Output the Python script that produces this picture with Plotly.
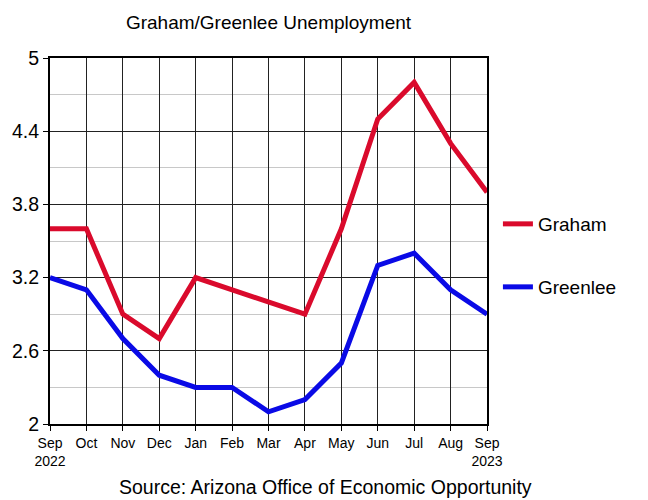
import plotly.graph_objects as go

months = ["Sep<br>2022", "Oct", "Nov", "Dec", "Jan", "Feb", "Mar", "Apr", "May", "Jun", "Jul", "Aug", "Sep<br>2023"]
graham = [3.6, 3.6, 2.9, 2.7, 3.2, 3.1, 3.0, 2.9, 3.6, 4.5, 4.8, 4.3, 3.9]
greenlee = [3.2, 3.1, 2.7, 2.4, 2.3, 2.3, 2.1, 2.2, 2.5, 3.3, 3.4, 3.1, 2.9]
x = list(range(len(months)))

FONT = "Liberation Sans, Arial, sans-serif"

fig = go.Figure()
fig.add_trace(go.Scatter(x=x, y=graham, mode="lines", name="Graham",
                         line=dict(color="#DA0A2C", width=5), legend="legend", showlegend=True))
fig.add_trace(go.Scatter(x=x, y=greenlee, mode="lines", name="Greenlee",
                         line=dict(color="#0A0AE6", width=5), legend="legend2", showlegend=True))

fig.update_layout(
    width=648, height=500,
    showlegend=True,
    margin=dict(l=50, r=161, t=58, b=76),
    paper_bgcolor="white", plot_bgcolor="white",
    font=dict(family=FONT, color="black"),
    title=dict(text="Graham/Greenlee Unemployment", x=0.5, xref="paper", xanchor="center",
               y=1 - 22 / 500, yanchor="middle", font=dict(size=19, family=FONT, color="black")),
    legend=dict(x=1.025, y=(424 - 224) / 366, xanchor="left", yanchor="middle",
                font=dict(size=19, family=FONT), bgcolor="rgba(0,0,0,0)", itemwidth=30),
    legend2=dict(x=1.025, y=(424 - 287) / 366, xanchor="left", yanchor="middle",
                 font=dict(size=19, family=FONT), bgcolor="rgba(0,0,0,0)", itemwidth=30),
    xaxis=dict(range=[0, 12], tickvals=x, ticktext=months, showgrid=True, gridcolor="#222",
               gridwidth=1, ticks="outside", ticklen=5, tickcolor="black",
               showline=True, linecolor="black", linewidth=2, mirror=True,
               tickfont=dict(size=14, family=FONT), zeroline=False, fixedrange=True),
    yaxis=dict(range=[2, 5], tickvals=[2, 2.6, 3.2, 3.8, 4.4, 5],
               ticktext=["2", "2.6", "3.2", "3.8", "4.4", "5"],
               showgrid=True, gridcolor="#222", gridwidth=1,
               ticks="outside", ticklen=5, tickcolor="black",
               showline=True, linecolor="black", linewidth=2, mirror=True,
               tickfont=dict(size=19.5, family=FONT), zeroline=False,
               minor=dict(tickvals=[2.3, 2.9, 3.5, 4.1, 4.7], showgrid=True,
                          gridcolor="#c8c8c8", gridwidth=1, ticks=""),
               fixedrange=True),
    annotations=[dict(text="Source: Arizona Office of Economic Opportunity",
                      xref="paper", yref="paper", x=(325 - 50) / 437, y=-(487 - 424) / 366,
                      xanchor="center", yanchor="middle", showarrow=False,
                      font=dict(size=19.5, family=FONT, color="black"))],
)

fig.write_html("out.html")
